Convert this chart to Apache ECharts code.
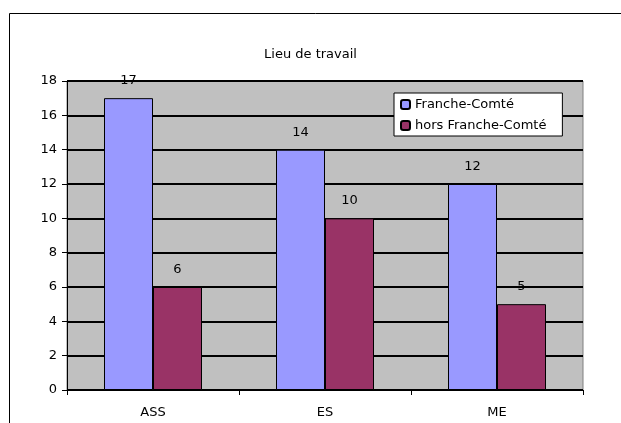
<!DOCTYPE html>
<html>
<head>
<meta charset="utf-8">
<script src="https://cdn.jsdelivr.net/npm/echarts@6/dist/echarts.min.js"></script>
<style>
html, body { margin: 0; padding: 0; background: #fff; }
#main { width: 621px; height: 423px; }
</style>
</head>
<body>
<div id="main"></div>
<script>
// données du graphique
var categories = ['ASS', 'ES', 'ME'];
var franche = [17, 14, 12];
var horsFranche = [6, 10, 5];
var seriesNames = ['Franche-Comté', 'hors Franche-Comté'];

var chart = echarts.init(document.getElementById('main'));

var font = 'DejaVu Sans, Verdana, sans-serif';

var option = {
    backgroundColor: '#fff',
    animation: false,
    title: {
        text: 'Lieu de travail',
        left: 'center',
        top: 43,
        textStyle: { fontFamily: font, fontSize: 13, fontWeight: 'normal', color: '#000' }
    },
    // cadre extérieur
    graphic: [{
        type: 'rect',
        shape: { x: 9.5, y: 13.5, width: 640, height: 420 },
        style: { fill: 'none', stroke: '#000', lineWidth: 1 },
        silent: true
    }],
    legend: {
        data: seriesNames,
        orient: 'vertical',
        left: 394,
        top: 93,
        backgroundColor: '#fff',
        borderColor: '#000',
        borderWidth: 1,
        padding: [5, 16, 4, 6],
        itemWidth: 9,
        itemHeight: 9,
        itemGap: 8,
        textStyle: { fontFamily: font, fontSize: 13, color: '#000' }
    },
    grid: {
        left: 67,
        right: 38,
        top: 81,
        bottom: 33,
        show: true,
        backgroundColor: '#c0c0c0',
        borderColor: '#808080',
        borderWidth: 1
    },
    xAxis: {
        type: 'category',
        data: categories,
        axisLine: { show: true, lineStyle: { color: '#000', width: 1 } },
        axisTick: { show: true, length: 5, alignWithLabel: false, lineStyle: { color: '#000' } },
        axisLabel: { fontFamily: font, fontSize: 13, color: '#000', margin: 16 }
    },
    yAxis: {
        type: 'value',
        min: 0,
        max: 18,
        interval: 2,
        axisLine: { show: true, lineStyle: { color: '#000', width: 1 } },
        axisTick: { show: true, length: 5, lineStyle: { color: '#000' } },
        axisLabel: { fontFamily: font, fontSize: 13, color: '#000', margin: 10 },
        splitLine: { show: true, lineStyle: { color: '#000', width: 2 } }
    },
    series: [{
        name: seriesNames[0],
        type: 'bar',
        data: franche,
        barWidth: 49,
        barGap: '0%',
        itemStyle: { color: '#9999ff', borderColor: '#000', borderWidth: 1 },
        label: { show: true, position: 'top', distance: 11, fontFamily: font, fontSize: 13, color: '#000' }
    }, {
        name: seriesNames[1],
        type: 'bar',
        data: horsFranche,
        barWidth: 49,
        barGap: '0%',
        itemStyle: { color: '#993366', borderColor: '#000', borderWidth: 1 },
        label: { show: true, position: 'top', distance: 11, fontFamily: font, fontSize: 13, color: '#000' }
    }]
};

chart.setOption(option);
</script>
</body>
</html>
